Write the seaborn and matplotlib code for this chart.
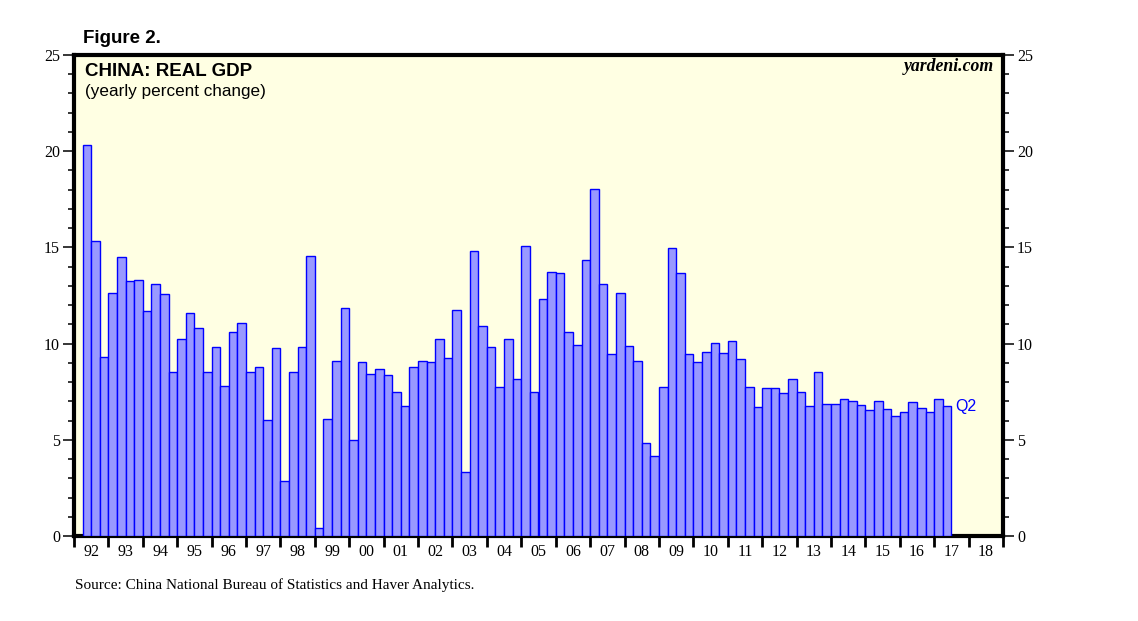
import matplotlib
matplotlib.use("Agg")
import matplotlib.pyplot as plt
from matplotlib.ticker import FixedLocator, MultipleLocator, NullFormatter, FixedFormatter
import seaborn as sns
import pandas as pd

# ── Data ──────────────────────────────────────────────────────────────────────
FIRST_QUARTER = "1992Q2"
LAST_QUARTER = "2017Q2"

gdp_yoy = [
    20.34, 15.31, 9.29,                 # 92
    12.61, 14.48, 13.23, 13.28,         # 93
    11.68, 13.08, 12.56, 8.51,          # 94
    10.22, 11.57, 10.79, 8.51,          # 95
    9.81, 7.78, 10.59, 11.05,           # 96
    8.51, 8.77, 6.02, 9.76,             # 97
    2.85, 8.51, 9.81, 14.53,            # 98
    0.42, 6.07, 9.08, 11.83,            # 99
    4.98, 9.03, 8.41, 8.67,             # 00
    8.35, 7.47, 6.75, 8.77,             # 01
    9.08, 9.03, 10.22, 9.24,            # 02
    11.73, 3.32, 14.79, 10.90,          # 03
    9.81, 7.73, 10.22, 8.15,            # 04
    15.05, 7.47, 12.30, 13.70,          # 05
    13.65, 10.59, 9.91, 14.37,          # 06
    18.01, 13.08, 9.44, 12.61,          # 07
    9.86, 9.08, 4.83, 4.15,             # 08
    7.73, 14.95, 13.65, 9.44,           # 09
    9.03, 9.55, 10.02, 9.50,            # 10
    10.12, 9.19, 7.73, 6.69,            # 11
    7.68, 7.68, 7.42, 8.15,             # 12
    7.47, 6.75, 8.51, 6.85,             # 13
    6.85, 7.11, 7.01, 6.80,             # 14
    6.54, 7.01, 6.59, 6.23,             # 15
    6.43, 6.95, 6.64, 6.43,             # 16
    7.11, 6.75,                         # 17
]

year_labels = ["92", "93", "94", "95", "96", "97", "98", "99", "00", "01",
               "02", "03", "04", "05", "06", "07", "08", "09", "10", "11",
               "12", "13", "14", "15", "16", "17", "18"]
FIRST_YEAR = 1992

y_ticks = [0, 5, 10, 15, 20, 25]

# ── Style ─────────────────────────────────────────────────────────────────────
BAR_FILL = "#9999FF"
BAR_EDGE = "#0000FF"
PANEL_BG = "#FFFFE3"
SERIF = ["Liberation Serif", "DejaVu Serif"]
SANS = ["Liberation Sans", "DejaVu Sans"]

sns.set_style("ticks")
plt.rcParams["font.family"] = SERIF
plt.rcParams["text.color"] = "black"
plt.rcParams["xtick.color"] = "black"
plt.rcParams["ytick.color"] = "black"
plt.rcParams["xtick.labelcolor"] = "black"
plt.rcParams["ytick.labelcolor"] = "black"

# quarter -> x position (bar centre, in fractional years)
quarters = pd.period_range(FIRST_QUARTER, LAST_QUARTER, freq="Q")
df = pd.DataFrame({
    "pos": [q.year + (q.quarter - 1) / 4 + 0.125 for q in quarters],
    "gdp": gdp_yoy,
})

W, H = 1138, 621
fig = plt.figure(figsize=(W / 100, H / 100), dpi=100)
ax = fig.add_axes([74 / W, 1 - 536 / H, (1003 - 74) / W, (536 - 55) / H])
ax.set_facecolor(PANEL_BG)

sns.barplot(data=df, x="pos", y="gdp", native_scale=True, width=1.0,
            color=BAR_FILL, saturation=1, edgecolor=BAR_EDGE, linewidth=1.0,
            errorbar=None, zorder=3, ax=ax)

last_year = FIRST_YEAR + len(year_labels)
ax.set_xlim(FIRST_YEAR, last_year)
ax.set_ylim(0, 25)
ax.set_xlabel("")
ax.set_ylabel("")

# x: thick ticks on year boundaries, labels centred in the year
ax.xaxis.set_major_locator(FixedLocator(list(range(FIRST_YEAR, last_year + 1))))
ax.xaxis.set_major_formatter(NullFormatter())
ax.xaxis.set_minor_locator(FixedLocator([FIRST_YEAR + i + 0.5 for i in range(len(year_labels))]))
ax.xaxis.set_minor_formatter(FixedFormatter(year_labels))
ax.tick_params(axis="x", which="major", direction="out", length=8, width=2, color="black")
ax.tick_params(axis="x", which="minor", length=0, pad=6, labelsize=11.5, labelcolor="black")

# y: same scale both sides
ax.yaxis.set_major_locator(FixedLocator(y_ticks))
ax.yaxis.set_minor_locator(MultipleLocator(1))
ax.tick_params(axis="y", which="both", left=True, right=True,
               labelleft=True, labelright=True, direction="out", color="black")
ax.tick_params(axis="y", which="major", length=8, width=1.1, labelsize=11.5,
               pad=2, labelcolor="black")
ax.tick_params(axis="y", which="minor", length=4, width=1.1)

for s in ax.spines.values():
    s.set_visible(True)
    s.set_linewidth(3)
    s.set_color("black")

# label the latest quarter
ax.text(df["pos"].iloc[-1] + 0.25, df["gdp"].iloc[-1], "Q2", color=BAR_EDGE,
        fontsize=11.5, family=SANS, va="center", ha="left", zorder=4)

# ── Titles & source ───────────────────────────────────────────────────────────
fig.text(83 / W, 1 - 42.7 / H, "Figure 2.", family=SANS, fontweight="bold",
         fontsize=13.5, va="baseline", color="black")
fig.text(85 / W, 1 - 76 / H, "CHINA: REAL GDP", family=SANS, fontweight="bold",
         fontsize=13.5, va="baseline", color="black")
fig.text(85 / W, 1 - 96 / H, "(yearly percent change)", family=SANS,
         fontsize=12.3, va="baseline", color="black")
fig.text(994 / W, 1 - 70.7 / H, "yardeni.com", family=SERIF, fontweight="bold",
         fontstyle="italic", fontsize=12.8, ha="right", va="baseline", color="black")
fig.text(75 / W, 1 - 589 / H,
         "Source: China National Bureau of Statistics and Haver Analytics.",
         family=SERIF, fontsize=11, va="baseline", color="black")

fig.savefig("out.png", dpi=100)
